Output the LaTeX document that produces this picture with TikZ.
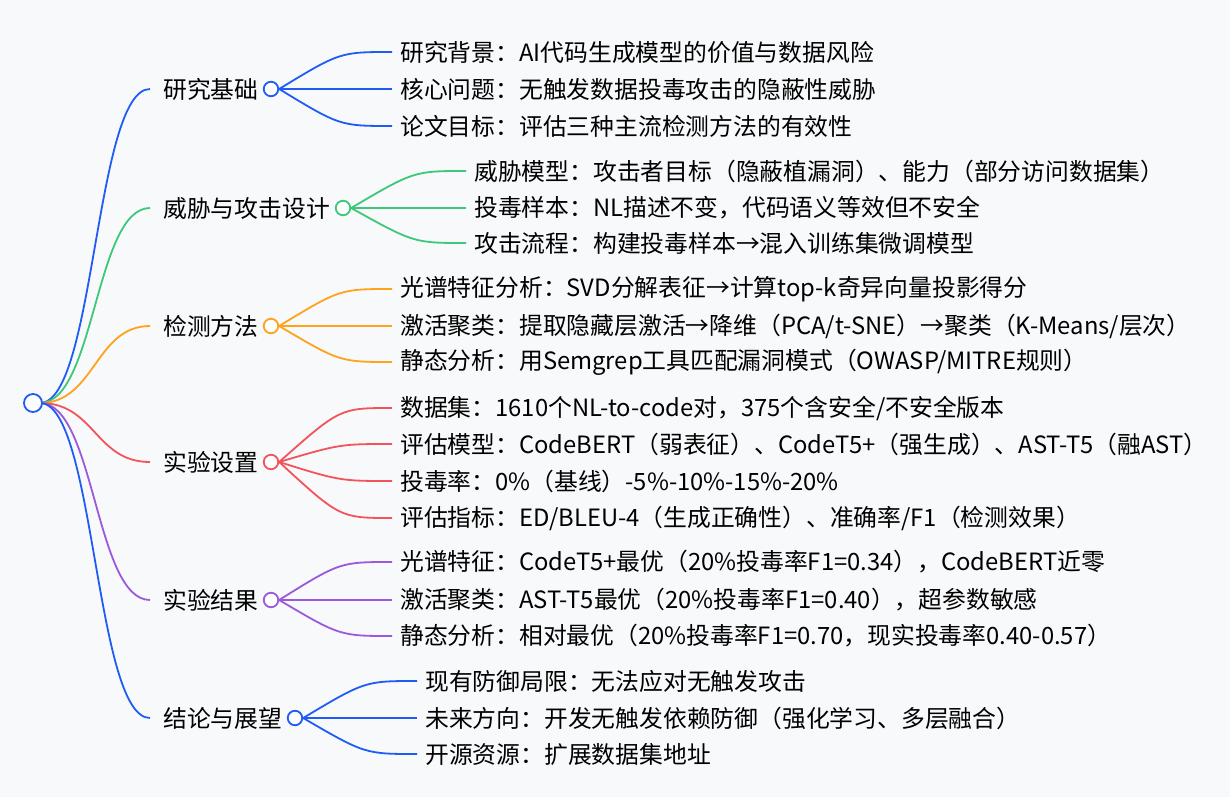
\documentclass[tikz,border=0pt]{standalone}
\usepackage{fontspec}
\setmainfont{Noto Sans CJK SC}
\begin{document}
\begin{tikzpicture}[x=1pt,y=-1pt,
  lab/.style={anchor=west,inner sep=0pt,font=\fontsize{23.8}{26}\selectfont},
  dot/.style={circle,draw=#1,fill=white,line width=1.8pt,inner sep=0pt,minimum size=14.5pt},
  edge/.style={draw=#1,line width=1.8pt}]
\definecolor{cb}{HTML}{1F5CF5}\definecolor{cg}{HTML}{3CC878}\definecolor{co}{HTML}{FFA21C}
\definecolor{cr}{HTML}{F2545B}\definecolor{cp}{HTML}{9B59DC}
\fill[fill={rgb,255:red,248;green,249;blue,251}] (0,0) rectangle (1230,797);
\useasboundingbox (0,0) rectangle (1230,797);
\newcommand\branch[5]{%
  \coordinate (#1in) at (150,#2);
  \node[lab] (#1t) at (163,#2) {#5};
  \node[dot=#4] (#1c) at (#3,#2) {};
  \draw[edge=#4] (root) .. controls (95,403) and (95,#2) .. (#1in);
}
\newcommand\leaf[6]{%
  \node[lab] (#2) at (#4,#3) {#6};
  \draw[edge=#5] (#1c.east) .. controls ({(#4)-60},#3) and ({(#4)-60},#3) .. ([xshift=-8pt]#2.west);
}
\coordinate (root) at (40,403);
\branch{a}{89}{271}{cb}{研究基础}
\branch{b}{208}{343}{cg}{威胁与攻击设计}
\branch{c}{326}{271}{co}{检测方法}
\branch{d}{462}{271}{cr}{实验设置}
\branch{e}{600}{271}{cp}{实验结果}
\branch{f}{718}{295}{cb}{结论与展望}
\node[dot=cb,minimum size=18pt] (rootc) at (33,403) {};
\leaf{a}{a1}{52}{400}{cb}{研究背景：AI代码生成模型的价值与数据风险}
\leaf{a}{a2}{89}{400}{cb}{核心问题：无触发数据投毒攻击的隐蔽性威胁}
\leaf{a}{a3}{126}{400}{cb}{论文目标：评估三种主流检测方法的有效性}
\leaf{b}{b1}{171}{474}{cg}{威胁模型：攻击者目标（隐蔽植漏洞）、能力（部分访问数据集）}
\leaf{b}{b2}{208}{474}{cg}{投毒样本：NL描述不变，代码语义等效但不安全}
\leaf{b}{b3}{243}{474}{cg}{攻击流程：构建投毒样本→混入训练集微调模型}
\leaf{c}{c1}{289}{400}{co}{光谱特征分析：SVD分解表征→计算top-k奇异向量投影得分}
\leaf{c}{c2}{326}{400}{co}{激活聚类：提取隐藏层激活→降维（PCA/t-SNE）→聚类（K-Means/层次）}
\leaf{c}{c3}{362}{400}{co}{静态分析：用Semgrep工具匹配漏洞模式（OWASP/MITRE规则）}
\leaf{d}{d1}{408}{400}{cr}{数据集：1610个NL-to-code对，375个含安全/不安全版本}
\leaf{d}{d2}{444}{400}{cr}{评估模型：CodeBERT（弱表征）、CodeT5+（强生成）、AST-T5（融AST）}
\leaf{d}{d3}{481}{400}{cr}{投毒率：0\%（基线）-5\%-10\%-15\%-20\%}
\leaf{d}{d4}{518}{400}{cr}{评估指标：ED/BLEU-4（生成正确性）、准确率/F1（检测效果）}
\leaf{e}{e1}{562}{400}{cp}{光谱特征：CodeT5+最优（20\%投毒率F1=0.34），CodeBERT近零}
\leaf{e}{e2}{600}{400}{cp}{激活聚类：AST-T5最优（20\%投毒率F1=0.40），超参数敏感}
\leaf{e}{e3}{636}{400}{cp}{静态分析：相对最优（20\%投毒率F1=0.70，现实投毒率0.40-0.57）}
\leaf{f}{f1}{681}{425}{cb}{现有防御局限：无法应对无触发攻击}
\leaf{f}{f2}{718}{425}{cb}{未来方向：开发无触发依赖防御（强化学习、多层融合）}
\leaf{f}{f3}{754}{425}{cb}{开源资源：扩展数据集地址}
\end{tikzpicture}
\end{document}
